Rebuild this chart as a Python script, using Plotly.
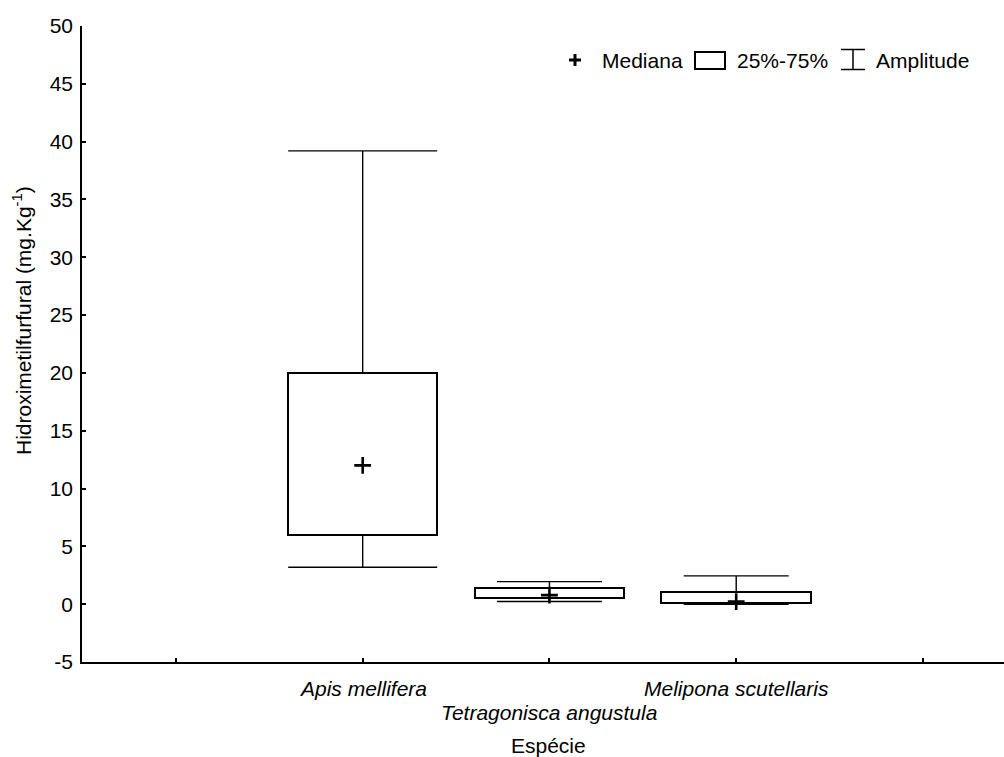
import plotly.graph_objects as go

# ---- data ----
species = ["Apis mellifera", "Tetragonisca angustula", "Melipona scutellaris"]
positions = [1, 2, 3]
minimum = [3.2, 0.23, 0.0]
q1 = [6.0, 0.52, 0.12]
median = [12.0, 0.78, 0.22]
q3 = [20.0, 1.4, 1.05]
maximum = [39.2, 1.95, 2.45]
cap_halfwidth_px = [74.5, 52.5, 52.5]
y_ticks = [-5, 0, 5, 10, 15, 20, 25, 30, 35, 40, 45, 50]
y_ticktext = ["-5", "0", "5", "10", "15", "20", "25", "30", "35", "40", "45", "50"]
x_ticks = [0, 1, 2, 3, 4]

FONT = "Liberation Sans, Arial, sans-serif"
FS = 21
W, H = 1004, 757
L, R, T, B = 82, 0, 26, 757 - 662
PW, PH = W - L - R, H - T - B

def px(x):
    return (x - L) / PW

def py(y):
    return (H - B - y) / PH

fig = go.Figure()

# boxes (25%-75%)
fig.add_trace(go.Bar(
    x=positions, base=q1, y=[b - a for a, b in zip(q1, q3)], width=0.8,
    marker=dict(color="white", line=dict(color="black", width=2)),
    showlegend=False, hoverinfo="skip"))

# whiskers (Amplitude)
for i in range(len(positions)):
    fig.add_trace(go.Scatter(
        x=[positions[i]], y=[q3[i]], mode="markers",
        marker=dict(size=1, color="rgba(0,0,0,0)"),
        error_y=dict(type="data", symmetric=False, array=[maximum[i] - q3[i]], arrayminus=[0],
                     color="black", thickness=1.4, width=cap_halfwidth_px[i]),
        showlegend=False, hoverinfo="skip"))
    fig.add_trace(go.Scatter(
        x=[positions[i]], y=[q1[i]], mode="markers",
        marker=dict(size=1, color="rgba(0,0,0,0)"),
        error_y=dict(type="data", symmetric=False, array=[0], arrayminus=[q1[i] - minimum[i]],
                     color="black", thickness=1.4, width=cap_halfwidth_px[i]),
        showlegend=False, hoverinfo="skip"))

# medians
fig.add_trace(go.Scatter(
    x=positions, y=median, mode="markers",
    marker=dict(symbol="cross-thin", size=12, line=dict(color="black", width=2.6)),
    showlegend=False, hoverinfo="skip"))

# category labels (staggered)
label_y = [688, 712, 688]
annotations = []
for p, s, ly in zip(positions, species, label_y):
    annotations.append(dict(x=p, xref="x", y=py(ly), yref="paper", text="<i>%s</i>" % s,
                            showarrow=False, xanchor="center", yanchor="middle",
                            font=dict(family=FONT, size=FS, color="black")))
annotations.append(dict(x=px(548), xref="paper", y=py(745), yref="paper", text="Espécie",
                        showarrow=False, xanchor="center", yanchor="middle",
                        font=dict(family=FONT, size=FS, color="black")))
annotations.append(dict(x=px(22), xref="paper", y=py(321), yref="paper",
                        text="Hidroximetilfurfural (mg.Kg<sup>-1</sup>)", textangle=-90,
                        showarrow=False, xanchor="center", yanchor="middle",
                        font=dict(family=FONT, size=FS, color="black")))

# legend
for txt, lx in [("Mediana", 600), ("25%-75%", 735), ("Amplitude", 874)]:
    annotations.append(dict(x=px(lx), xref="paper", y=py(60.5), yref="paper", text=txt,
                            showarrow=False, xanchor="left", yanchor="middle",
                            font=dict(family=FONT, size=FS, color="black")))

shapes = []
def seg(x0, y0, x1, y1, w):
    shapes.append(dict(type="line", xref="paper", yref="paper", x0=px(x0), y0=py(y0),
                       x1=px(x1), y1=py(y1), line=dict(color="black", width=w)))
seg(569, 60, 581, 60, 3)
seg(575, 54, 575, 66, 3)
shapes.append(dict(type="rect", xref="paper", yref="paper", x0=px(695), y0=py(52), x1=px(725),
                   y1=py(69), line=dict(color="black", width=2), fillcolor="white"))
seg(841, 49.5, 865, 49.5, 1.5)
seg(841, 69.5, 865, 69.5, 1.5)
seg(853, 49.5, 853, 69.5, 1.5)

fig.update_layout(
    width=W, height=H, margin=dict(l=L, r=R, t=T, b=B),
    paper_bgcolor="white", plot_bgcolor="white",
    font=dict(family=FONT, size=FS, color="black"),
    bargap=0, showlegend=False,
    annotations=annotations, shapes=shapes,
    xaxis=dict(range=[-0.503, 4.434], tickvals=x_ticks, showticklabels=False,
               ticks="inside", ticklen=4, tickwidth=1.5, tickcolor="black",
               showline=True, linecolor="black", linewidth=2, showgrid=False, zeroline=False,
               fixedrange=True),
    yaxis=dict(range=[-5, 50], tickvals=y_ticks, ticktext=y_ticktext,
               ticks="inside", ticklen=4, tickwidth=1.5,
               tickcolor="black", showline=True, linecolor="black", linewidth=1.5,
               showgrid=False, zeroline=False, ticklabelstandoff=3,
               tickfont=dict(family=FONT, size=FS, color="black"), fixedrange=True),
)

fig.write_html(
    "out.html",
    config={"displayModeBar": False},
    post_script="document.body.style.margin='0';document.body.style.overflow='hidden';",
)
